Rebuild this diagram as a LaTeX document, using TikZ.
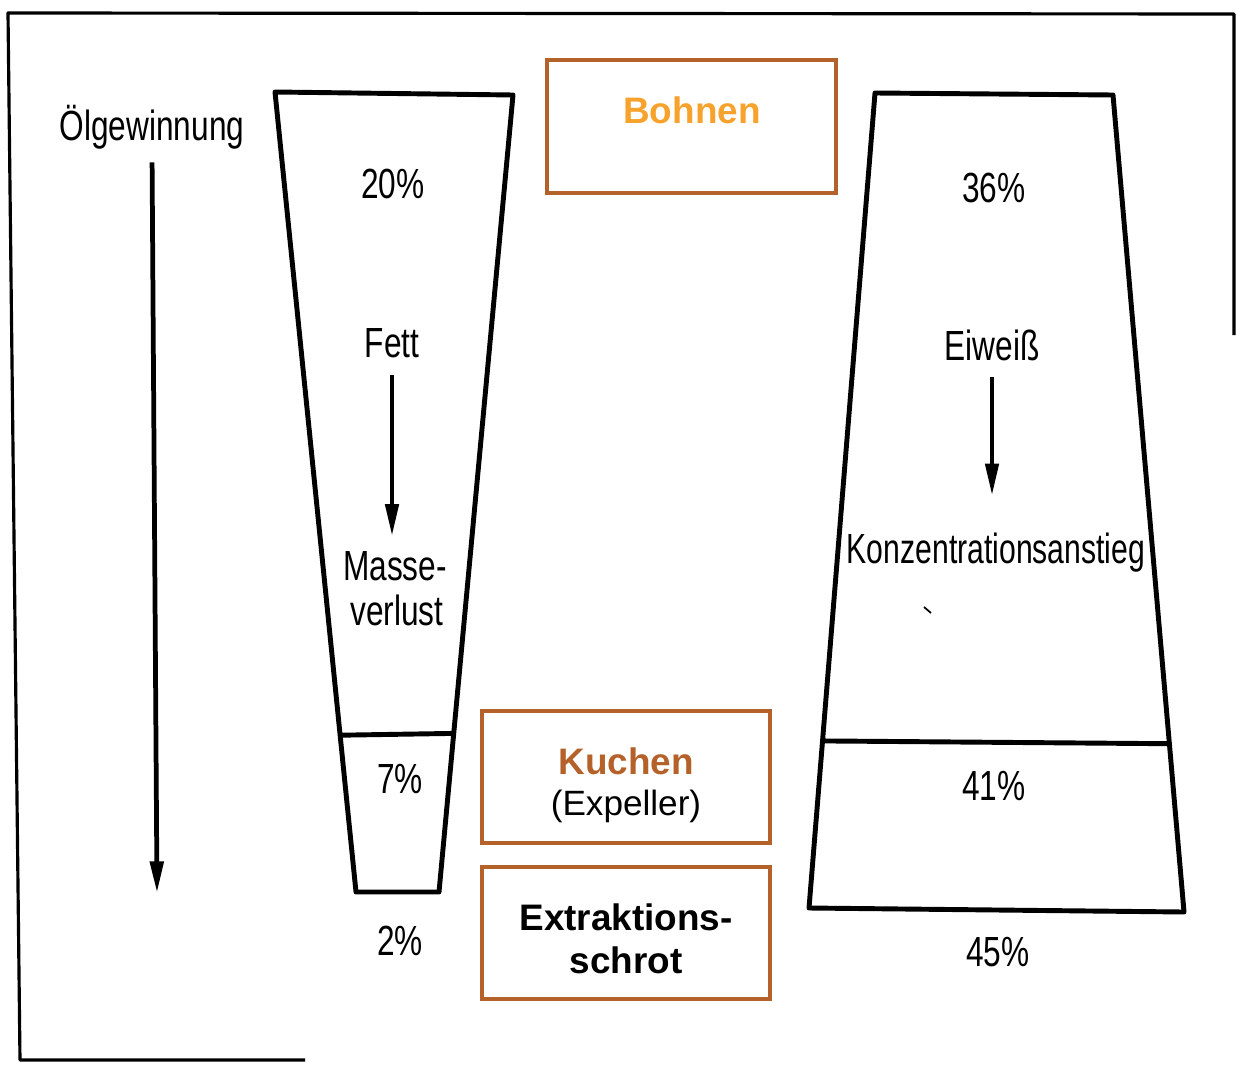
\documentclass[tikz,border=0pt]{standalone}
\usepackage{fontspec}
\setmainfont{Liberation Sans}
\newfontfamily\dinfont[FakeStretch=0.75]{Liberation Sans}
\newfontfamily\dinnarrow[FakeStretch=0.715]{Liberation Sans}
\usetikzlibrary{arrows.meta,fit,calc}
\definecolor{boxbrown}{RGB}{181,98,42}
\definecolor{beanorange}{RGB}{247,162,45}
\begin{document}
\begin{tikzpicture}[x=0.02cm,y=-0.02cm,
  trap/.style={line width=2.8pt, line join=round},
  frame/.style={line width=1.8pt, line join=round},
  box/.style={draw=boxbrown, line width=1.8pt, rectangle, inner sep=0pt},
  hand/.style={font=\dinfont\fontsize{24}{28}\selectfont, inner sep=0pt, anchor=base},
  boxtext/.style={font=\fontsize{21}{25}\selectfont, inner sep=0pt, anchor=base},
  arr/.style={line width=2.3pt, -{Triangle[length=18pt,width=7.5pt]}},
]
\useasboundingbox (0,0) rectangle (1236,1064);
% frame
\draw[frame] (1234,335) -- (1234,14) -- (8,13) -- (20,1060) -- (305,1060);

% left funnel
\coordinate (ltl) at (275,92);
\coordinate (ltr) at (513,95);
\coordinate (lbr) at (439,892);
\coordinate (lbl) at (356,892);
\draw[trap] (ltl) -- (ltr) -- (lbr) -- (lbl) -- cycle;
\draw[trap] ($(ltl)!0.804!(lbl)$) -- ($(ltr)!0.801!(lbr)$);

% right trapezoid
\coordinate (rtl) at (875,93);
\coordinate (rtr) at (1113,95);
\coordinate (rbr) at (1184,912);
\coordinate (rbl) at (809,908);
\draw[trap] (rtl) -- (rtr) -- (rbr) -- (rbl) -- cycle;
\draw[trap] ($(rtl)!0.795!(rbl)$) -- ($(rtr)!0.794!(rbr)$);

% handwritten labels
\node[hand] (oel) at (152,141) {Ölgewinnung};
\node[hand] (p20) at (393,198) {20\%};
\node[hand] (fett) at (392,357) {Fett};
\node[hand] (masse) at (395,580) {Masse-};
\node[hand] (verlust) at (397,625) {verlust};
\node[hand] (p7) at (400,793) {7\%};
\node[hand] (p2) at (400,955) {2\%};
\node[hand] (p36) at (994,202) {36\%};
\node[hand] (eiweiss) at (992,360) {Eiweiß};
\node[hand, font=\dinnarrow\fontsize{24}{28}\selectfont] (konz) at (996,563) {Konzentrationsanstieg};
\node[hand] (p41) at (994,800) {41\%};
\node[hand] (p45) at (998,966) {45\%};

% arrows
\coordinate (oelend) at (157,893);
\draw[arr, line width=2.7pt, shorten <=7pt] (oel.south) -- (oelend);
\draw[arr, shorten <=10pt, shorten >=8.5pt] (fett.south) -- (fett.south |- masse.north);
\draw[arr, shorten <=9.5pt, shorten >=21pt] (eiweiss.south) -- (eiweiss.south |- konz.north);

% small mark
\draw[line width=1pt] (924,607) -- (931,613);

% boxes
\node[box, fit={(547,60) (836,193)}] (bohnenbox) {};
\node[boxtext, font=\bfseries\fontsize{21}{25}\selectfont, text=beanorange] (bohnen) at (692,124) {Bohnen};

\node[box, fit={(482,711) (770,843)}] (kuchenbox) {};
\node[boxtext, font=\bfseries\fontsize{21}{25}\selectfont, text=boxbrown] (kuchen) at (626,774) {Kuchen};
\node[boxtext, font=\fontsize{20}{24}\selectfont] (expeller) at (626,815) {(Expeller)};

\node[box, fit={(482,867) (770,999)}] (schrotbox) {};
\node[boxtext, font=\bfseries\fontsize{21}{25}\selectfont] (extr) at (626,930) {Extraktions-};
\node[boxtext, font=\bfseries\fontsize{21}{25}\selectfont] (schrot) at (626,973) {schrot};
\end{tikzpicture}
\end{document}
